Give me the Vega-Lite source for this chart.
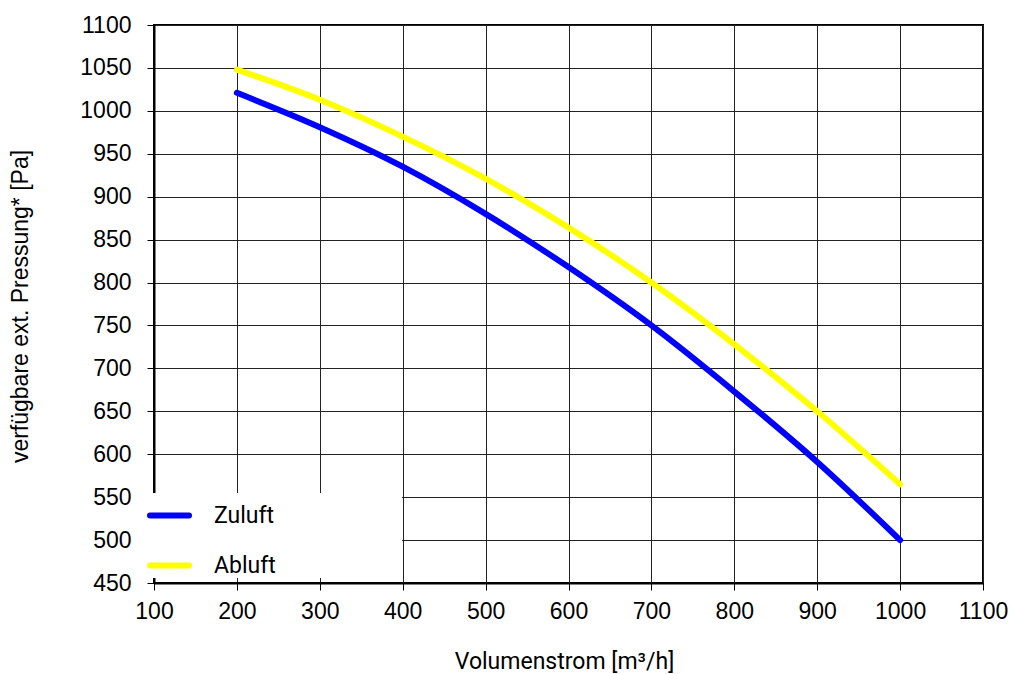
{
  "$schema": "https://vega.github.io/schema/vega-lite/v6.json",
  "autosize": {"type": "none"},
  "width": 829,
  "height": 558,
  "padding": {"left": 154, "top": 25, "right": 31, "bottom": 91},
  "background": "white",
  "data": {
    "values": [
      {"q": 200, "p": 1021, "s": "Zuluft"},
      {"q": 300, "p": 981, "s": "Zuluft"},
      {"q": 400, "p": 935, "s": "Zuluft"},
      {"q": 500, "p": 880, "s": "Zuluft"},
      {"q": 600, "p": 818, "s": "Zuluft"},
      {"q": 700, "p": 750, "s": "Zuluft"},
      {"q": 800, "p": 673, "s": "Zuluft"},
      {"q": 900, "p": 591, "s": "Zuluft"},
      {"q": 1000, "p": 500, "s": "Zuluft"},
      {"q": 200, "p": 1048, "s": "Abluft"},
      {"q": 300, "p": 1013, "s": "Abluft"},
      {"q": 400, "p": 970, "s": "Abluft"},
      {"q": 500, "p": 921, "s": "Abluft"},
      {"q": 600, "p": 864, "s": "Abluft"},
      {"q": 700, "p": 800, "s": "Abluft"},
      {"q": 800, "p": 728, "s": "Abluft"},
      {"q": 900, "p": 650, "s": "Abluft"},
      {"q": 1000, "p": 565, "s": "Abluft"}
    ]
  },
  "mark": {"type": "line", "strokeWidth": 6, "strokeCap": "round", "interpolate": "monotone"},
  "encoding": {
    "x": {
      "field": "q", "type": "quantitative",
      "scale": {"domain": [100, 1100], "nice": false, "zero": false},
      "axis": {
        "values": [100, 200, 300, 400, 500, 600, 700, 800, 900, 1000, 1100],
        "format": "d",
        "title": "Volumenstrom [m³/h]",
        "titleFont": "Roboto", "titleFontSize": 23, "titleFontWeight": "normal",
        "titleX": 410, "titleY": 78, "titleBaseline": "middle", "titleAlign": "center",
        "labelPadding": 10, "tickSize": 7
      }
    },
    "y": {
      "field": "p", "type": "quantitative",
      "scale": {"domain": [450, 1100], "nice": false, "zero": false},
      "axis": {
        "values": [450, 500, 550, 600, 650, 700, 750, 800, 850, 900, 950, 1000, 1050, 1100],
        "format": "d",
        "title": "verfügbare ext. Pressung* [Pa]",
        "titleFont": "Liberation Sans", "titleFontSize": 23, "titleFontWeight": "normal",
        "titleAngle": -90, "titleX": -134, "titleY": 281, "titleBaseline": "middle", "titleAlign": "center",
        "labelPadding": 16, "tickSize": 7
      }
    },
    "color": {
      "field": "s", "type": "nominal",
      "scale": {"domain": ["Zuluft", "Abluft"], "range": ["#0000ff", "#ffff00"]},
      "legend": {
        "title": null,
        "orient": "none",
        "legendX": -14,
        "legendY": 468,
        "fillColor": "white",
        "padding": 0,
        "symbolType": "stroke",
        "symbolSize": 1521,
        "symbolStrokeWidth": 6,
        "symbolOffset": 7,
        "labelOffset": 22,
        "rowPadding": 15,
        "labelFont": "Roboto",
        "labelFontSize": 23,
        "labelColor": "black",
        "labelLimit": 400,
        "labelExpr": "datum.label + '\u00a0\u00a0\u00a0\u00a0\u00a0\u00a0\u00a0\u00a0\u00a0\u00a0\u00a0\u00a0\u00a0\u00a0\u00a0\u00a0\u00a0\u00a0\u00a0\u00a0\u00a0\u00a0\u200b'",
        "encode": {"symbols": {"update": {"strokeCap": {"value": "round"}}}}
      }
    }
  },
  "config": {
    "view": {"stroke": "black", "strokeWidth": 2},
    "axis": {
      "grid": true,
      "gridColor": "#222",
      "gridOpacity": 1,
      "gridWidth": 1,
      "domainColor": "black",
      "domainWidth": 2,
      "tickColor": "black",
      "tickWidth": 1,
      "labelFont": "Liberation Sans",
      "labelFontSize": 23,
      "labelColor": "black",
      "titleColor": "black",
      "labelFlush": false,
      "labelOverlap": false
    }
  }
}
